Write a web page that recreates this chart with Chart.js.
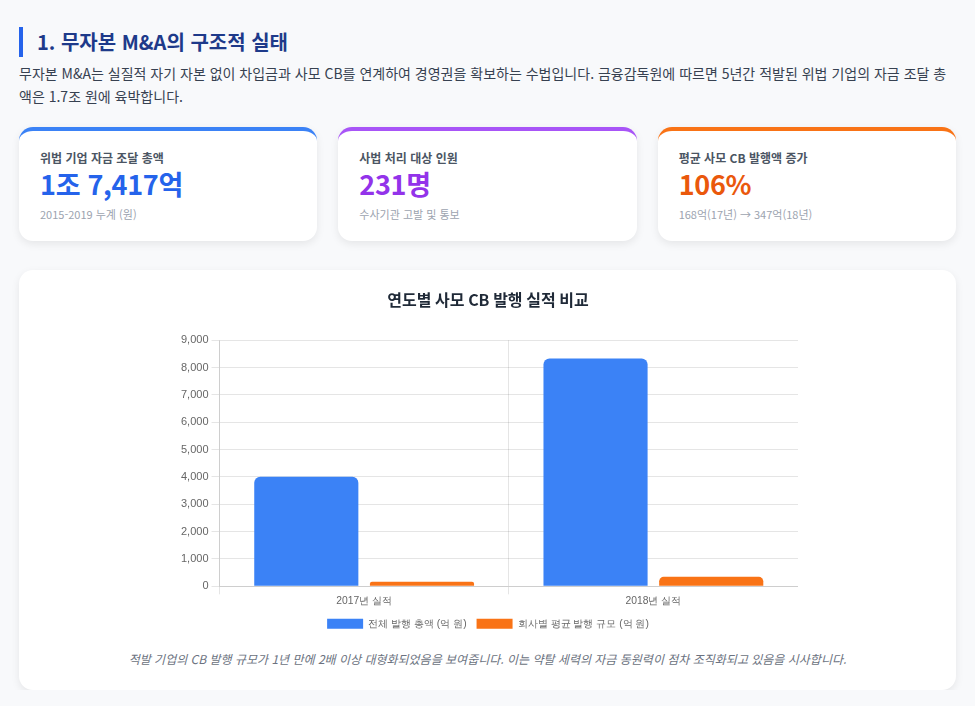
<!DOCTYPE html>
<html lang="ko">
<head>
<meta charset="utf-8">
<script src="https://cdn.jsdelivr.net/npm/chart.js@4.4.1/dist/chart.umd.min.js"></script>
<style>
  * { box-sizing: border-box; }
  body {
    margin: 0;
    padding: 27px 19px 0 19px;
    background: #f8f9fb;
    font-family: "Noto Sans CJK KR", "Noto Sans", sans-serif;
    color: #374151;
  }
  h2 {
    margin: 0;
    border-left: 4px solid #2563eb;
    padding-left: 14px;
    font-size: 20px;
    line-height: 30px;
    color: #1e3a8a;
    font-weight: 700;
  }
  .intro {
    margin: 5px 0 0 0;
    font-size: 14px;
    line-height: 23px;
    color: #374151;
  }
  .cards {
    display: flex;
    gap: 21px;
    margin-top: 19px;
  }
  .card {
    flex: 1;
    background: #fff;
    border-radius: 14px;
    border-top: 4px solid #3b82f6;
    box-shadow: 0 3px 8px rgba(0,0,0,0.08);
    height: 114px;
    padding: 18px 21px;
  }
  .card.purple { border-top-color: #a855f7; }
  .card.orange { border-top-color: #f97316; }
  .label { font-size: 12px; font-weight: 700; color: #4b5563; line-height: 18px; }
  .value { font-size: 27px; font-weight: 700; line-height: 34px; color: #2563eb; letter-spacing: -0.3px; }
  .purple .value { color: #9333ea; }
  .orange .value { color: #ea580c; }
  .sub { font-size: 11px; color: #9ca3af; margin-top: 5px; }
  .chart-card {
    margin-top: 29px;
    background: #fff;
    border-radius: 14px;
    box-shadow: 0 3px 8px rgba(0,0,0,0.08);
    height: 420px;
    padding: 15px 20px 0 20px;
  }
  .chart-box {
    width: 620px;
    height: 354px;
    margin: 0 auto;
    position: relative;
  }
  .caption {
    text-align: center;
    font-style: italic;
    font-size: 12px;
    color: #6b7280;
    margin-top: 11px;
  }
</style>
</head>
<body>
<h2>1. 무자본 M&amp;A의 구조적 실태</h2>
<p class="intro">무자본 M&amp;A는 실질적 자기 자본 없이 차입금과 사모 CB를 연계하여 경영권을 확보하는 수법입니다. 금융감독원에 따르면 5년간 적발된 위법 기업의 자금 조달 총액은 1.7조 원에 육박합니다.</p>

<div class="cards">
  <div class="card">
    <div class="label">위법 기업 자금 조달 총액</div>
    <div class="value">1조 7,417억</div>
    <div class="sub">2015-2019 누계 (원)</div>
  </div>
  <div class="card purple">
    <div class="label">사법 처리 대상 인원</div>
    <div class="value">231명</div>
    <div class="sub">수사기관 고발 및 통보</div>
  </div>
  <div class="card orange">
    <div class="label">평균 사모 CB 발행액 증가</div>
    <div class="value">106%</div>
    <div class="sub">168억(17년) → 347억(18년)</div>
  </div>
</div>

<div class="chart-card">
  <div class="chart-box"><canvas id="cbChart"></canvas></div>
  <div class="caption">적발 기업의 CB 발행 규모가 1년 만에 2배 이상 대형화되었음을 보여줍니다. 이는 약탈 세력의 자금 동원력이 점차 조직화되고 있음을 시사합니다.</div>
</div>

<script>
// 연도별 사모 CB 발행 (억 원)
const years = ["2017년 실적", "2018년 실적"];
const totalIssued = [4010, 8330];
const avgPerCompany = [168, 347];

Chart.defaults.font.size = 11;

const chartData = {
  labels: years,
  datasets: [
    {
      label: "전체 발행 총액 (억 원)",
      backgroundColor: "#3b82f6",
      data: totalIssued,
      borderRadius: 6,
    },
    {
      label: "회사별 평균 발행 규모 (억 원)",
      backgroundColor: "#f97316",
      data: avgPerCompany,
      borderRadius: 6,
    },
  ],
};

const config = {
  type: "bar",
  data: chartData,
  options: {
    responsive: true,
    maintainAspectRatio: false,
    animation: false,
    plugins: {
      title: {
        display: true,
        text: "연도별 사모 CB 발행 실적 비교",
        color: "#1f2937",
        font: { size: 16, weight: "bold", family: "'Noto Sans CJK KR', sans-serif" },
        padding: { top: 5, bottom: 31 },
      },
      legend: {
        position: "bottom",
        labels: { boxWidth: 36, boxHeight: 10, font: { size: 10.3 } },
      },
    },
    scales: {
      x: {
        ticks: { padding: 1, font: { size: 10.3 } },
      },
      y: {
        beginAtZero: true,
        max: 9000,
        ticks: { stepSize: 1000 },
      },
    },
  },
};

new Chart(document.getElementById("cbChart"), config);
</script>
</body>
</html>
